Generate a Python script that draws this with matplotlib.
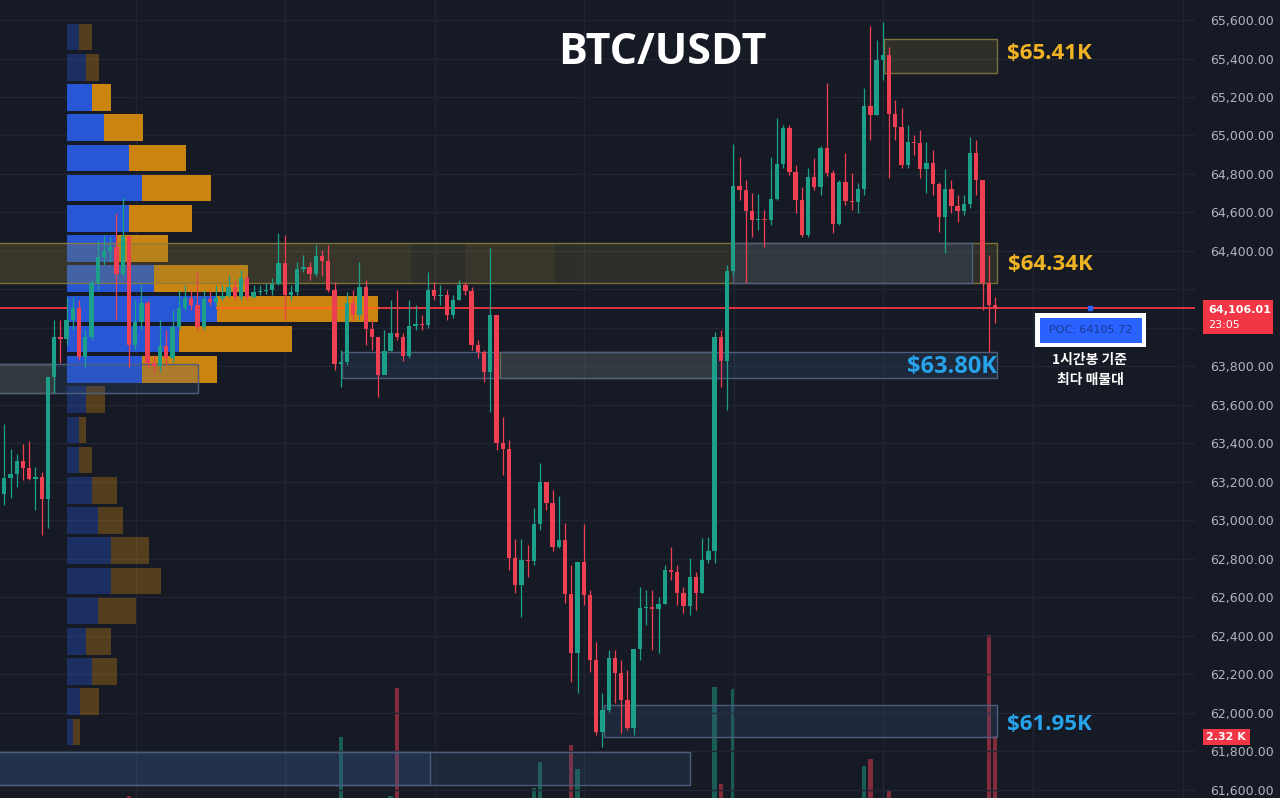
import numpy as np
import matplotlib.pyplot as plt
from matplotlib.patches import Rectangle

# hourly BTC/USDT candles, open = previous close
first_open = 62821
closes = [63138, 63221, 63242, 63309, 63273, 63216, 63226, 63112, 63745, 63953,
          63943, 64042, 64104, 63849, 63953, 64234, 64369, 64400, 64421, 64280,
          64478, 63912, 64031, 64130, 63818, 63803, 63907, 63844, 64005, 64104,
          64156, 64119, 64005, 64151, 64135, 64156, 64166, 64213, 64161, 64260,
          64161, 64187, 64192, 64197, 64229, 64338, 64171, 64187, 64306, 64317,
          64280, 64374, 64348, 64197, 63813, 63823, 64130, 64068, 64213, 63995,
          63953, 63756, 63881, 63974, 63953, 63855, 64010, 64021, 64016, 64197,
          64166, 64171, 64068, 64145, 64223, 64192, 63912, 63875, 63771, 64068,
          63403, 63371, 62805, 62665, 62795, 62790, 62982, 63200, 63091, 62862,
          62899, 62618, 62312, 62784, 62613, 62275, 61901, 62015, 62286, 62208,
          62067, 61922, 62332, 62545, 62550, 62540, 62566, 62743, 62732, 62623,
          62556, 62706, 62623, 62795, 62842, 63953, 63829, 64296, 64738, 64717,
          64608, 64561, 64566, 64562, 64670, 64852, 65039, 64810, 64665, 64483,
          64784, 64732, 64935, 64805, 64540, 64758, 64660, 64655, 64722, 65153,
          65107, 65392, 65418, 65112, 65044, 64847, 64966, 64961, 64826, 64857,
          64748, 64577, 64722, 64634, 64608, 64644, 64909, 64769, 64234, 64119,
          64106.01]
highs = [63418, 63501, 63371, 63345, 63397, 63413, 63278, 63252, 63745, 64042,
         64042, 64161, 64161, 64145, 63990, 64249, 64457, 64483, 64473, 64597,
         64680, 64478, 64145, 64223, 64145, 63860, 64042, 63990, 64094, 64197,
         64223, 64197, 64291, 64197, 64197, 64223, 64223, 64275, 64249, 64301,
         64275, 64223, 64223, 64234, 64260, 64493, 64483, 64223, 64343, 64379,
         64343, 64431, 64405, 64431, 64239, 63886, 64187, 64197, 64343, 64249,
         64042, 63953, 63990, 64145, 64197, 63974, 64145, 64119, 64068, 64291,
         64239, 64223, 64197, 64171, 64249, 64239, 64213, 63938, 63886, 64415,
         64068, 63538, 63418, 62904, 62904, 62873, 63065, 63299, 63200, 63158,
         63127, 62987, 62769, 62784, 62982, 62639, 62369, 62104, 62327, 62327,
         62275, 62223, 62332, 62655, 62639, 62639, 62603, 62769, 62862, 62769,
         62655, 62805, 62732, 62909, 62914, 63979, 63990, 64327, 64956, 64888,
         64769, 64701, 64696, 64613, 64888, 65091, 65055, 65055, 64847, 64732,
         64831, 64883, 64945, 65273, 64821, 64769, 64909, 64805, 64753, 65247,
         65569, 65496, 65590, 65458, 65184, 65143, 65055, 65003, 65029, 64966,
         64925, 64760, 64826, 64769, 64691, 64691, 64992, 64977, 64769, 64379,
         64161]
lows = [62691, 63081, 63117, 63174, 63210, 63210, 63055, 62925, 62961, 63662,
        63818, 63912, 63990, 63834, 63797, 63938, 64197, 64327, 64343, 64042,
        64270, 63797, 63886, 63990, 63792, 63771, 63771, 63808, 63823, 63990,
        64094, 64094, 63990, 63990, 64119, 64119, 64145, 64161, 64145, 64145,
        64145, 64156, 64171, 64177, 64171, 64223, 64042, 64145, 64171, 64291,
        64249, 64270, 64270, 64187, 63782, 63694, 63808, 64042, 64042, 63912,
        63886, 63642, 63823, 63881, 63938, 63829, 63844, 63990, 63990, 64000,
        64145, 64119, 64042, 64052, 64145, 64171, 63886, 63844, 63720, 63564,
        63366, 63236, 62743, 62623, 62499, 62706, 62769, 62951, 63055, 62842,
        62857, 62571, 62161, 62104, 62561, 62213, 61886, 61823, 62005, 62052,
        61896, 61912, 61886, 62275, 62457, 62327, 62312, 62566, 62691, 62561,
        62519, 62509, 62535, 62623, 62779, 62779, 63694, 63574, 64275, 64665,
        64234, 64473, 64509, 64421, 64535, 64665, 64831, 64795, 64597, 64473,
        64473, 64717, 64691, 64789, 64494, 64535, 64639, 64613, 64597, 64691,
        64977, 65107, 65288, 64779, 64977, 64831, 64831, 64899, 64779, 64701,
        64691, 64499, 64390, 64597, 64551, 64587, 64623, 64691, 64094, 63875,
        64026]

# volume (K) of the bars that rise into view
vol_idx = [21, 55, 63, 64, 86, 87, 92, 93, 115, 116, 118, 139, 140, 143, 159, 160]
vol_k = [0.84, 2.30, 0.84, 3.50, 1.04, 1.68, 2.10, 1.51, 3.53, 1.14, 3.48,
         1.58, 1.75, 0.99, 4.81, 2.32]

# volume profile rows, top to bottom (buy / sell, relative)
prof_up = [12, 19, 25, 37, 62, 75, 62, 50, 87, 150, 112, 75,
           19, 12, 12, 25, 31, 44, 44, 31, 19, 25, 13, 6]
prof_down = [13, 13, 19, 39, 57, 69, 63, 51, 94, 161, 113, 75,
             19, 7, 13, 25, 25, 38, 50, 38, 25, 25, 19, 7]
value_area = range(2, 12)
poc = 64105.72
prof_start = 11

price_ticks = list(range(61600, 65601, 200))
day_lines = [22.1, 46.1, 70.1, 94.1, 118.1, 142.1, 166.1, 190.1]

# zones: (start candle, end candle, low, high)
gold_zones = [(-1, 160.3, 64234, 64442), (142.2, 160.3, 65325, 65501),
              (80.6, 114.8, 63740, 63875), (-1, 9, 63662, 63813)]
gold_extra = [(-1, 66.1, 64234, 64442), (75.1, 89.1, 64234, 64442)]
blue_zones = [(118, 156.3, 64234, 64442), (55.2, 160.3, 63740, 63875),
              (-1, 32.1, 63662, 63813), (97.3, 160.3, 61875, 62042),
              (-1, 111.1, 61626, 61797), (-1, 69.3, 61626, 61797)]

levels = [('$65.41K', 161.9, 65425, 'left', '#f0b323', 16),
          ('$64.34K', 162.1, 64330, 'left', '#f0b323', 16),
          ('$63.80K', 160.3, 63795, 'right', '#26a3ea', 17),
          ('$61.95K', 161.9, 61940, 'left', '#26a3ea', 16)]

bg = '#161a25'
up_c = '#1ca08a'
dn_c = '#ef3f52'
W, H = 1280, 798

fig = plt.figure(figsize=(12.8, 7.98), dpi=100, facecolor=bg)
rect = [0, 0, 1195 / W, 1]
ax_v = fig.add_axes(rect)
ax = fig.add_axes(rect, sharex=ax_v)
ax.patch.set_alpha(0)
ax_v.set_facecolor(bg)

closes = np.array(closes, dtype=float)
opens = np.concatenate([[first_open], closes[:-1]])
highs = np.array(highs, dtype=float)
lows = np.array(lows, dtype=float)
idx = np.arange(len(closes))
rising = closes >= opens
colors = np.where(rising, up_c, dn_c)

# volume
vcol = [up_c if rising[i] else dn_c for i in vol_idx]
ax_v.bar(vol_idx, vol_k, width=0.7, color=vcol, alpha=0.5)
ax_v.set_ylim(0.79, 20.5)
ax_v.axis('off')

# zones
for x0, x1, lo, hi in gold_zones:
    ax.add_patch(Rectangle((x0, lo), x1 - x0, hi - lo, facecolor='#8a7d3a', alpha=0.22,
                           edgecolor='none', zorder=2.6))
    ax.add_patch(Rectangle((x0, lo), x1 - x0, hi - lo, facecolor='none',
                           edgecolor='#8c7f3f', lw=1, alpha=0.85, zorder=2.6))
for x0, x1, lo, hi in gold_extra:
    ax.add_patch(Rectangle((x0, lo), x1 - x0, hi - lo, facecolor='#8a7d3a', alpha=0.1,
                           edgecolor='#8c7f3f', lw=0.8, zorder=2.6))
for x0, x1, lo, hi in blue_zones:
    ax.add_patch(Rectangle((x0, lo), x1 - x0, hi - lo, facecolor='#3a5a8a', alpha=0.22,
                           edgecolor='none', zorder=2.6))
    ax.add_patch(Rectangle((x0, lo), x1 - x0, hi - lo, facecolor='none',
                           edgecolor='#4b5f7d', lw=1, zorder=2.6))

# volume profile
n_rows = len(prof_up)
edges = np.linspace(highs.max(), lows.min(), n_rows + 1)
row_h = edges[0] - edges[1]
centers = (edges[:-1] + edges[1:]) / 2
scale = 1 / 6.23
for r in range(n_rows):
    a = 1.0 if r in value_area else 0.35
    ax.barh(centers[r], prof_up[r] * scale, left=prof_start, height=row_h * 0.88,
            color='#2857d6', alpha=a, zorder=2.5)
    ax.barh(centers[r], prof_down[r] * scale, left=prof_start + prof_up[r] * scale,
            height=row_h * 0.88, color='#cc8410', alpha=a, zorder=2.5)

# last price line and POC line
ax.axhline(closes[-1], color='#f23645', lw=1.3, zorder=2.4)
pr = int(np.argmax(np.array(prof_up) + np.array(prof_down)))
px0 = prof_start + prof_up[pr] * scale
ax.plot([px0, px0 + prof_down[pr] * scale], [poc, poc], color='#ff6a1a', lw=1.5, zorder=2.55)

# candles
ax.vlines(idx, lows, highs, colors=colors, lw=0.9, zorder=3)
ax.bar(idx, np.maximum(np.abs(closes - opens), 6), bottom=np.minimum(opens, closes),
       width=0.7, color=colors, zorder=3.1)

ax.plot(175.3, poc, marker='s', ms=3, color='#2962ff', zorder=4)

for txt, x, y, ha, col, fs in levels:
    ax.text(x, y, txt, ha=ha, va='center', color=col, fontsize=fs, fontweight='bold',
            family='Open Sans', zorder=6)

ax.set_xlim(0.31, 192.1)
ax.set_ylim(61558.4, 65703.9)
ax.set_yticks(price_ticks)
# the 64,000 label sits under the last-price tag
ax.set_yticklabels(['' if abs(p - closes[-1]) < 120 else f'{p:,.2f}' for p in price_ticks])
ax.yaxis.tick_right()
ax.tick_params(axis='y', length=0, pad=11, labelcolor='#b2b5be', labelsize=9)
ax.set_xticks(day_lines)
ax.tick_params(axis='x', length=0, labelbottom=False)
ax.grid(True, color='#212533', lw=1)
ax.set_axisbelow(True)
for s in ax.spines.values():
    s.set_visible(False)


def fbox(x0, y0, x1, y1, **kw):
    fig.add_artist(Rectangle((x0 / W, 1 - y1 / H), (x1 - x0) / W, (y1 - y0) / H,
                             transform=fig.transFigure, **kw))


# title
fig.text(662 / W, 1 - 53 / H, 'BTC/USDT', ha='center', va='center', color='white',
         fontsize=31, fontweight='bold', family='Open Sans')

# POC box and note
fbox(1035, 313, 1146, 347, facecolor='white', edgecolor='none')
fbox(1040, 318, 1142, 343, facecolor='#2962ff', edgecolor='none')
fig.text(1091 / W, 1 - 330 / H, f'POC: {poc}', ha='center', va='center',
         color='#1b3a8c', fontsize=8)
fig.text(1090 / W, 1 - 360 / H, '1시간봉 기준', ha='center', va='center', color='white',
         fontsize=10, fontweight='bold', family=['Noto Sans CJK KR', 'DejaVu Sans'])
fig.text(1090 / W, 1 - 380 / H, '최다 매물대', ha='center', va='center', color='white',
         fontsize=10, fontweight='bold', family=['Noto Sans CJK KR', 'DejaVu Sans'])

# price and volume tags
fbox(1203, 300, 1273, 334, facecolor='#f23645', edgecolor='none')
fig.text(1208 / W, 1 - 310 / H, f'{closes[-1]:,.2f}', ha='left', va='center',
         color='white', fontsize=8, fontweight='bold')
fig.text(1208 / W, 1 - 325 / H, '23:05', ha='left', va='center', color='white', fontsize=8)
fbox(1203, 729, 1250, 745, facecolor='#f23645', edgecolor='none')
fig.text(1226 / W, 1 - 737 / H, f'{vol_k[-1]:.2f} K', ha='center', va='center',
         color='white', fontsize=8, fontweight='bold')

fig.savefig('out.png', dpi=100, facecolor=bg)
